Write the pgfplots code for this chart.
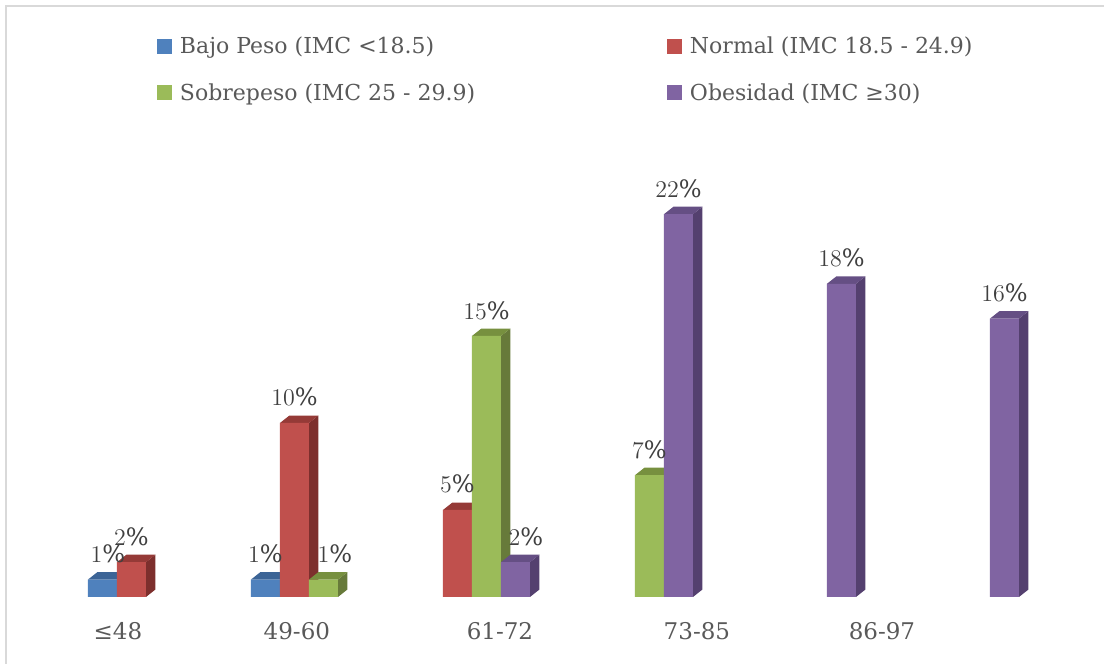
\documentclass[border=0pt]{standalone}
\usepackage{pgfplots}
\pgfplotsset{compat=1.18}
\usepackage{fontspec}
\setmainfont{DejaVu Serif}
\definecolor{blueF}{HTML}{4F81BD}
\definecolor{blueS}{HTML}{385D8A}
\definecolor{blueT}{HTML}{3C6496}
\definecolor{redF}{HTML}{C0504D}
\definecolor{redS}{HTML}{7D2F2D}
\definecolor{redT}{HTML}{953A37}
\definecolor{greenF}{HTML}{9BBB59}
\definecolor{greenS}{HTML}{677A3A}
\definecolor{greenT}{HTML}{77903F}
\definecolor{purpleF}{HTML}{8064A2}
\definecolor{purpleS}{HTML}{54406F}
\definecolor{purpleT}{HTML}{654F84}
\definecolor{lbl}{HTML}{404040}
\definecolor{txt}{HTML}{595959}
\definecolor{frame}{HTML}{D9D9D9}
\newcommand{\dX}{0.058}
\newcommand{\dY}{0.43}
\newcommand{\hw}{0.089}
\newcommand{\sideface}[3]{%
  \pgfmathsetmacro\xr{#1+\hw}%
  \pgfmathsetmacro\xs{#1+\hw+\dX}%
  \pgfmathsetmacro\vt{#2+\dY}%
  \addplot[fill=#3, draw=none, forget plot] coordinates {(\xr,0) (\xs,\dY) (\xs,\vt) (\xr,#2)} -- cycle;
}
\newcommand{\topface}[3]{%
  \pgfmathsetmacro\xl{#1-\hw}%
  \pgfmathsetmacro\xr{#1+\hw}%
  \pgfmathsetmacro\xlb{#1-\hw+\dX}%
  \pgfmathsetmacro\xrb{#1+\hw+\dX}%
  \pgfmathsetmacro\vt{#2+\dY}%
  \addplot[fill=#3, draw=none, forget plot] coordinates {(\xl,#2) (\xr,#2) (\xrb,\vt) (\xlb,\vt)} -- cycle;
}
\pgfplotsset{
  frontbar/.style={ybar, bar width=0.178, draw=none,
    visualization depends on={\thisrow{dx}\as\labdx},
    nodes near coords={\pgfmathprintnumber{\pgfplotspointmeta}\%},
    every node near coord/.append style={font=\fontsize{12}{14}\selectfont, text=lbl, anchor=base, yshift=8.5pt, xshift=#1, xshift=\labdx pt}},
}
\begin{document}
\begin{tikzpicture}
\useasboundingbox (0,0) rectangle (552pt,332pt);
\draw[frame, line width=1pt] (3pt,0) -- (3pt,329pt) -- (552pt,329pt);
\begin{axis}[
  at={(20pt,33.5pt)}, anchor=south west,
  scale only axis, width=515pt, height=223.5pt,
  xmin=-0.650, xmax=5.669, ymin=0, ymax=25.69,
  axis line style={draw=none},
  ytick=\empty,
  xtick={-0.172,0.926,2.172,3.380,4.515},
  xticklabels={≤48,49-60,61-72,73-85,86-97},
  major tick length=0pt,
  xticklabel style={anchor=base, yshift=-21.25pt, font=\fontsize{11.5}{13}\selectfont, text=txt},
  clip=false,
  legend columns=2,
  legend cell align=left,
  legend style={draw=none, fill=none, inner sep=0pt, outer sep=0pt,
    at={(0.11359,1.2528)}, anchor=north west,
    font=\fontsize{11}{13}\selectfont, text=txt,
    nodes={inner sep=0pt},
    row sep=13.5pt,
    /tikz/every odd column/.append style={column sep=4pt},
    /tikz/every even column/.append style={column sep=0pt}},
  legend image code/.code={\fill[#1] (0pt,-3.4pt) rectangle (7.5pt,4.1pt);},
]
% side faces
\sideface{-0.267}{1}{blueS}
\sideface{-0.089}{2}{redS}
\sideface{0.733}{1}{blueS}
\sideface{0.911}{10}{redS}
\sideface{1.089}{1}{greenS}
\sideface{1.911}{5}{redS}
\sideface{2.089}{15}{greenS}
\sideface{2.267}{2}{purpleS}
\sideface{3.089}{7}{greenS}
\sideface{3.267}{22}{purpleS}
\sideface{4.267}{18}{purpleS}
\sideface{5.267}{16}{purpleS}
% top faces
\topface{-0.267}{1}{blueT}
\topface{-0.089}{2}{redT}
\topface{0.733}{1}{blueT}
\topface{0.911}{10}{redT}
\topface{1.089}{1}{greenT}
\topface{1.911}{5}{redT}
\topface{2.089}{15}{greenT}
\topface{2.267}{2}{purpleT}
\topface{3.089}{7}{greenT}
\topface{3.267}{22}{purpleT}
\topface{4.267}{18}{purpleT}
\topface{5.267}{16}{purpleT}
% front faces (x = group, y = percent, dx = label nudge in pt)
\addplot[frontbar=-21.76pt, bar shift=-0.267, fill=blueF] table {
x y dx
0 1 2.75
1 1 0
};
\addlegendentry{\makebox[243.5pt][l]{Bajo Peso (IMC <18.5)}}
\addplot[frontbar=-7.25pt, bar shift=-0.089, fill=redF] table {
x y dx
0 2 0
1 10 0
2 5 0
};
\addlegendentry{Normal (IMC 18.5 - 24.9)}
\addplot[frontbar=7.25pt, bar shift=0.089, fill=greenF] table {
x y dx
1 1 5.75
2 15 0
3 7 0
};
\addlegendentry{\makebox[243.5pt][l]{Sobrepeso (IMC 25 - 29.9)}}
\addplot[frontbar=21.76pt, bar shift=0.267, fill=purpleF] table {
x y dx
2 2 5.25
3 22 0
4 18 0
5 16 0
};
\addlegendentry{Obesidad (IMC ≥30)}
\end{axis}
\end{tikzpicture}
\end{document}
